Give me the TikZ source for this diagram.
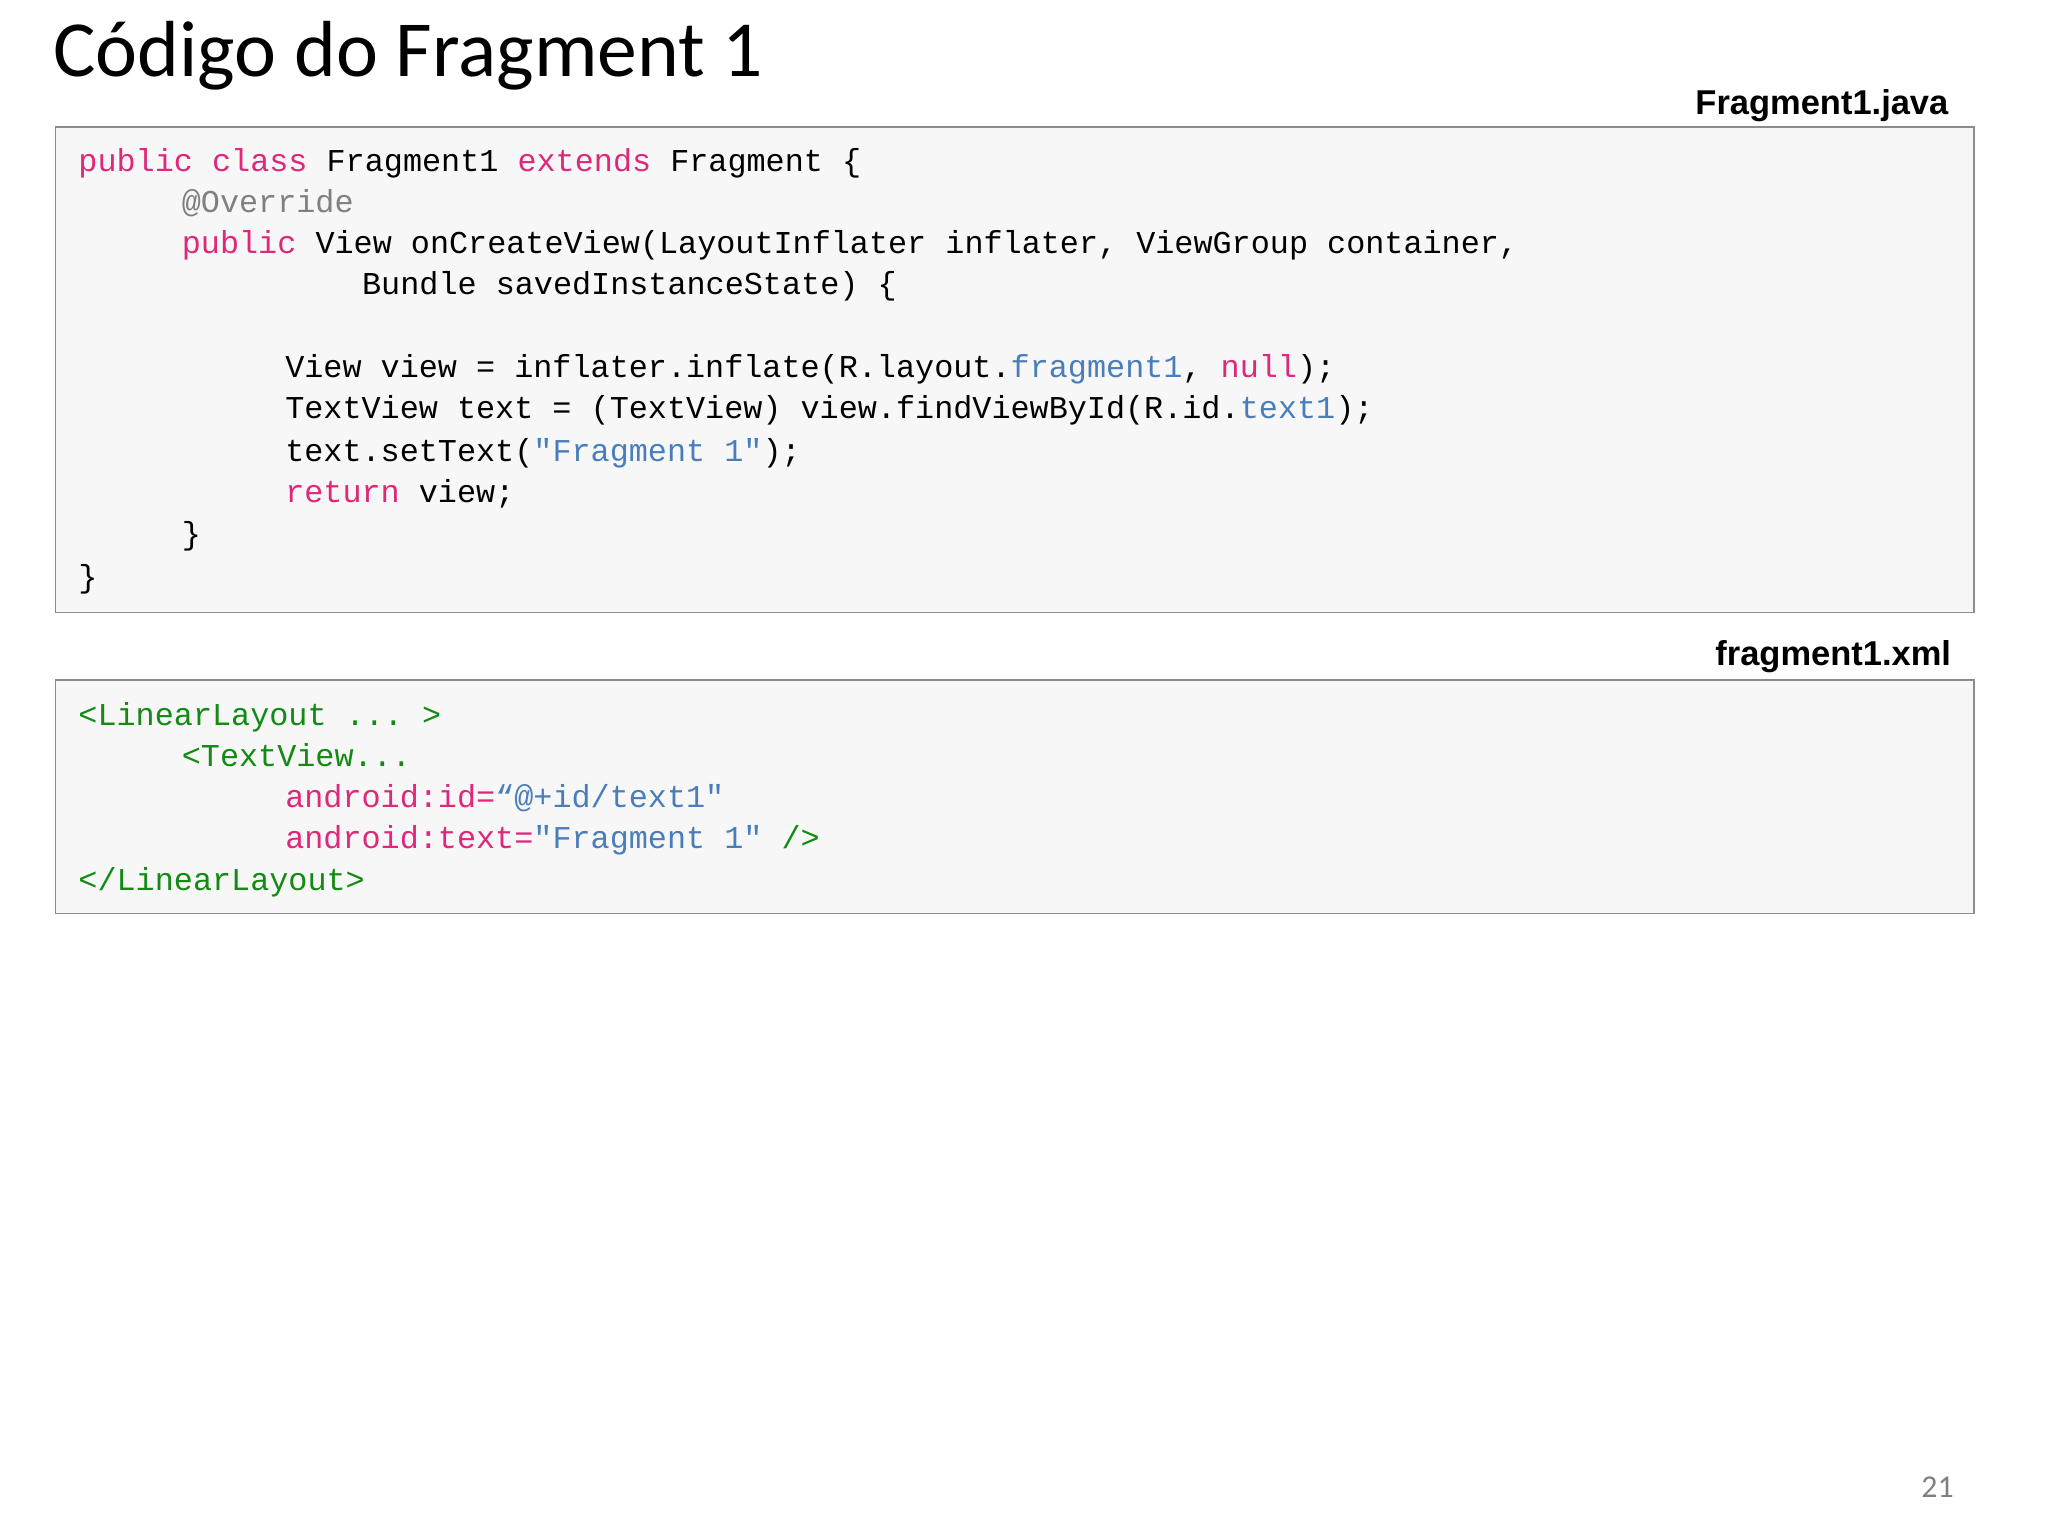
\documentclass[tikz,border=0pt]{standalone}
\usepackage{fontspec}
\setmainfont{Carlito}
\setmonofont{Liberation Mono}
\newfontfamily\labfont{Liberation Sans}
\definecolor{kw}{HTML}{E0287A}
\definecolor{st}{HTML}{4A7EBB}
\definecolor{an}{HTML}{808080}
\definecolor{tg}{HTML}{138A13}
\definecolor{boxfill}{HTML}{F7F7F7}
\definecolor{boxline}{HTML}{8C8C8C}
\newcommand{\K}[1]{\textcolor{kw}{#1}}
\newcommand{\St}[1]{\textcolor{st}{#1}}
\newcommand{\G}[1]{\textcolor{tg}{#1}}
\begin{document}
\begin{tikzpicture}[x=1pt,y=-1pt,
  code/.style={anchor=base west,inner sep=0pt,font=\fontsize{24}{24}\selectfont\ttfamily},
  codebox/.style={draw=boxline,line width=1.2pt,fill=boxfill},
  filelabel/.style={anchor=base east,inner sep=0pt,font=\fontsize{26}{26}\selectfont\labfont\bfseries}]
\useasboundingbox[fill=white] (0,0) rectangle (1545,1159);
\node[anchor=base west,inner sep=0pt,font=\fontsize{60}{60}\selectfont] (title) at (40,58) {Código do Fragment 1};
\node[filelabel] (jl) at (1470,86) {Fragment1.java};
\draw[codebox] (42,96) rectangle (1489,462);
\node[code] (j1) at (59,129) {\K{public} \K{class} Fragment1 \K{extends} Fragment \{};
\node[code] (j2) at (137,160) {\textcolor{an}{@Override}};
\node[code] (j3) at (137,191) {\K{public} View onCreateView(LayoutInflater inflater, ViewGroup container,};
\node[code] (j4) at (273,222) {Bundle savedInstanceState) \{};
\node[code] (j5) at (215,285) {View view = inflater.inflate(R.layout.\St{fragment1}, \K{null});};
\node[code] (j6) at (215,316) {TextView text = (TextView) view.findViewById(R.id.\St{text1});};
\node[code] (j7) at (215,348) {text.setText(\St{"Fragment 1"});};
\node[code] (j8) at (215,379) {\K{return} view;};
\node[code] (j9) at (137,411) {\}};
\node[code] (j10) at (59,443) {\}};
\node[filelabel] (xl) at (1472,502) {fragment1.xml};
\draw[codebox] (42,513) rectangle (1489,689);
\node[code] (x1) at (59,547) {\G{<LinearLayout ... >}};
\node[code] (x2) at (137,578) {\G{<TextView...}};
\node[code] (x3) at (215,609) {\K{android:id=}\St{“@+id/text1"}};
\node[code] (x4) at (215,640) {\K{android:text=}\St{"Fragment 1"} \G{/>}};
\node[code] (x5) at (59,672) {\G{</LinearLayout>}};
\node[anchor=base east,inner sep=0pt,text=an,font=\fontsize{24}{24}\selectfont] (pg) at (1474,1130) {21};
\end{tikzpicture}
\end{document}
